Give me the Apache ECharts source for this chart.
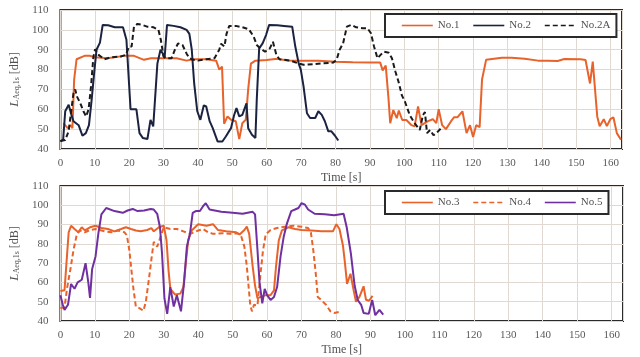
<!DOCTYPE html>
<html>
<head>
<meta charset="utf-8">
<script src="https://cdn.jsdelivr.net/npm/echarts@6/dist/echarts.min.js"></script>
<style>
html,body{margin:0;padding:0;background:#fff;}
#chart{width:640px;height:357px;}
</style>
</head>
<body>
<div id="chart"></div>
<script>
// ---- data (time [s], level [dB]) ----
const xTicks = [0,10,20,30,40,50,60,70,80,90,100,110,120,130,140,150,160];
const yTicks = [40,50,60,70,80,90,100,110];

const t1 = [0.9,2.1,3,3.5,4,4.7,7,8.5,10.1,13.7,18.5,21.4,24.3,26.3,31,33.8,36.7,38.6,42.4,45.3,46.2,47,47.6,48.6,49.6,51,52,52.9,53.9,54.6,55.4,56.7,60,63,66,70,75,80,85,90,93,93.7,94.6,95.4,95.9,96.8,97.8,98.4,99.4,100.6,102.1,103,104,105,106.9,108.3,109.3,110,111,112.1,113.6,114.5,115.5,116.9,118.1,119.1,120,120.9,121.9,122.6,123.8,128.4,131.2,135,138.9,141.7,144.6,146.5,151.3,152.7,154,154.8,156.1,156.8,158,158.9,159.9,160.8,161.8,163];
const v1 = [53,50.5,52,50.5,75,85.2,86.9,87,86.2,85.7,86.9,86.9,84.9,85.7,85.7,85.7,84.5,85.2,85.2,84.5,80,81.5,52.7,56.4,54.7,54,45,53,54.7,70,83,84.5,84.8,85.4,84.6,84.5,84.5,84,83.7,83.5,83.5,79.6,82,65.5,53,59.6,55.5,59.4,54.6,54.6,52,51.4,61.5,52,54,55,53,60,52,50,54,56,56,59,48,52,46,52,51,75,85,86,86,85.5,84.5,84.5,84.3,85.3,85.2,84.8,73,84,56.4,51.5,55,51.5,55,56,48,44.7];

const t2 = [0,0.8,1.4,2.4,3.2,3.8,4.3,5.3,6.4,7.4,8.3,9.1,9.8,10.5,11.5,12.3,13.9,15.8,18.2,19.2,20.4,22.1,23,24,25.3,26.2,27,27.4,28.2,29.1,29.8,30.3,31,32.9,34.9,36.7,37.5,38.2,38.9,39.8,40.7,41.7,42.4,43.4,44.3,45.7,47.1,48.1,49.6,50.5,51.2,52,52.9,54.1,54.6,55.7,56.7,57.1,57.8,58.8,59.8,60.7,63.1,65,67.4,68.3,69.3,69.9,70.7,71.7,72.6,74.1,75,76,76.9,77.9,78.8,79.8,80.8];
const v2 = [43.8,44.7,59,62.3,57.2,54,55,52,46.7,48,52,65,78,90,93.6,102.5,102.3,101.3,101.3,95,60,60,48,45.5,45,54.7,51.4,51,83,90,88,85.7,102.5,102,101.3,100,98,90,73,59,54.7,62,61.4,54,50.5,43.8,43.8,46.3,50.5,57,60.6,56.4,57.2,63,50.5,47.2,45.5,65,90.7,93.2,97.4,102.5,102.3,102,101.6,91.6,83,80,71.5,58,55.6,55.6,59,57.2,54,48.9,48.9,46.8,44.3];

const t2a = [0,1.4,2.4,3.2,3.8,4.3,4.8,5.8,6.7,7.5,8.2,8.9,9.6,10.1,11.1,12.8,14.7,17.6,19,20,20.7,21.4,22.4,23.8,25.2,27.1,28.5,29.2,30,30.9,32.3,33.3,34.2,35.5,36.7,37.5,38.6,40,42.4,44.8,46.2,46.7,47.7,48.3,49.1,51,52.9,54.8,56.2,57.1,58.1,59.5,60.9,61.8,62.8,63.7,65.2,67.1,69,70.7,73.6,76.5,79.3,80.3,81.2,82.2,83.3,84.6,86,87.9,89.3,90.3,91.2,92.2,93.1,94.1,95.5,96.4,97.4,98.3,99.3,100.2,101.6,103,104.5,105.4,106,106.6,107.5,108.5,109.6,111];
const v2a = [44,44.5,49,60,68,70,66.5,63,59,56.4,60,71.5,86.5,90.2,87.4,85.2,86.2,86.6,87.4,91.6,91.6,101.6,103,102.5,101.6,101.3,100,95,86.6,85.7,85.7,90,93.2,92.4,88,85.7,84.9,84.5,85.2,85.7,90,93,91.6,98,102,102,101.3,100.3,96.6,92.4,90.7,89,90.7,94,87.4,85.2,84.9,84.4,83.2,82.4,82.7,83.2,83.5,84.9,90,93.2,101.6,102.5,101.3,100.8,100.8,98.3,91.6,85.7,87.4,89,88.5,85.7,79,74,67,63.8,57,53,49.6,57,58.6,48,49.6,46.9,48.5,51];

const t3 = [0,1.2,1.9,2.4,3.1,4.1,5.2,6.2,7.1,8.6,10.2,11.9,13.8,15.7,17.6,19,20.5,21.9,23.3,25.2,26.4,27.1,28.6,30,30.8,31.4,31.9,33.3,34.8,35.7,36.5,37.1,38.1,40,42.4,44.3,45.7,48.1,51,52,53.4,54.1,54.8,55.8,56.5,57.2,58.1,59.6,61,62,62.6,63.4,64.3,66.2,68.1,70,72.9,75.8,79.1,80.1,81,82,82.6,83.2,84.2,85.1,85.8,86.8,88,88.7,89.6,90.6];
const v3 = [55.6,56,73.5,86,89.4,87.7,86,88.6,87,88.6,89.4,88.2,87.7,86.5,87.7,88.6,87.7,86.9,86.5,87.2,88.2,86.5,88.6,89.4,81.9,66,56.7,53.7,54.2,57.6,71.8,81.9,86.9,90.2,89.4,90.2,87.2,86.5,86,84.9,87.2,88.9,85.2,68.5,58.4,51.7,52.5,53.4,53.4,55.9,68.5,81.9,87,88.6,87.7,87.2,86.9,86.5,86.5,90.2,87.7,79.3,70,59.2,64.5,56,50,52.5,58,51,50.5,53];

const t4 = [0,1.2,1.9,2.9,3.8,4.8,5.7,7.1,8.6,10.2,11.4,12.9,14.8,16.7,18.6,19.3,20,20.7,21.2,21.9,22.9,24.1,24.8,25.7,26.4,27.1,28.1,28.9,30,31.9,33.8,35.7,37.6,40,41.4,42.9,44.3,47.1,49.1,51.4,52.4,53.4,54.1,54.6,55.1,55.6,56.2,57.2,58.1,58.8,59.6,61,62.9,65.2,67.6,70,71.9,72.7,73.4,74.1,74.7,75.7,77.1,78.4,79.5,81.5];
const v4 = [46.7,47,56.7,66.8,76.8,85.2,86.9,86,87.2,87.7,87.2,86.5,86,86.9,86,84.4,76.8,65,56.7,47.5,46.7,45.3,50,61.8,71.8,81,78.5,82.7,88.6,87.7,87.7,86.5,85.2,86.9,87.7,86,85.2,85.5,85.2,85.5,84.4,78.5,68.5,58.4,48.4,45,48.4,48,64.8,76.5,85,87.2,88.2,88.9,89.4,88.9,88.2,86,76.8,65,52.5,50.9,48.4,45,44.2,45];

const t5 = [0,0.7,1.2,2.2,3.1,4.1,5,6.2,7.3,8.1,8.6,9.2,10.2,11,11.9,13.3,15.7,18.1,19.5,21,22.4,24.3,26.2,27.1,28.1,28.9,29.5,30.2,31,31.9,32.9,33.8,35,35.9,36.7,37.6,38.4,39.3,40.5,41.4,42.2,43.3,44.8,46.7,50,52.9,55.8,56.5,57.2,57.8,58.6,59.3,60,61,62,62.9,63.9,64.8,65.7,67,68.1,69.1,70,71,71.9,73.8,76.7,79.5,82.2,83.1,84.3,85.4,86.3,87.3,88,89.5,90.5,91.4,92.6,93.7];
const v5 = [53.4,48.4,45.8,48.4,59.2,56.7,60,61.4,70,60,52,66.8,73.5,85.2,95.3,98.6,97,96.1,97.3,98.1,97,97.3,98.1,97.8,95.6,88.6,75,51.7,43.7,57.6,47.5,53.4,45,60,78.5,85.2,96.1,97,97,99.5,101.1,97.8,97.3,96.6,96.1,95.6,96.6,95.3,76.8,60,49.2,56.7,53.4,50.9,52.5,57.6,73.5,83.5,90.2,97,97.8,98.6,101.1,100.3,97.8,95.6,95.3,94.8,95.6,88.6,75.2,58.4,50.9,48.4,44.2,43.7,50.9,43,45.8,43.3];

const names1 = ['No.1','No.2','No.2A'];
const names2 = ['No.3','No.4','No.5'];

// ---- styling ----
const FONT = '"Liberation Serif", "DejaVu Serif", serif';
const ORANGE = '#e8632b', NAVY = '#1b2340', BLACK = '#1a1a1a', PURPLE = '#7030a0';
const zip = (t, v) => t.map((x, i) => [x, v[i]]);

function xAx(gi) {
  return {
    gridIndex: gi, type: 'value', min: xTicks[0], max: 163.3, interval: xTicks[1] - xTicks[0],
    axisLine: {show: false}, axisTick: {show: false},
    axisLabel: {showMaxLabel: false, margin: 9, fontFamily: FONT, fontSize: 11, color: '#595959'},
    splitLine: {show: true, lineStyle: {color: '#dfd9d2', width: 1}},
    name: 'Time [s]', nameLocation: 'middle', nameGap: 23,
    nameTextStyle: {fontFamily: FONT, fontSize: 12, color: '#505050'}
  };
}
function yAx(gi) {
  return {
    gridIndex: gi, type: 'value', min: yTicks[0], max: yTicks[yTicks.length - 1], interval: yTicks[1] - yTicks[0],
    axisLine: {show: false}, axisTick: {show: false},
    axisLabel: {margin: 12, fontFamily: FONT, fontSize: 11, color: '#595959'},
    splitLine: {show: true, lineStyle: {color: '#dfd9d2', width: 1}},
    name: '{i|L}{s|Aeq,1s}{n| [dB]}', nameLocation: 'middle', nameGap: 36,
    nameTextStyle: {
      fontFamily: FONT, color: '#505050',
      rich: {
        i: {fontFamily: FONT, fontStyle: 'italic', fontSize: 13, color: '#505050', lineHeight: 16, verticalAlign: 'bottom'},
        s: {fontFamily: FONT, fontSize: 8, color: '#505050', lineHeight: 12, verticalAlign: 'bottom'},
        n: {fontFamily: FONT, fontSize: 12, color: '#505050', lineHeight: 16, verticalAlign: 'bottom'}
      }
    }
  };
}
function leg(names, top) {
  return {
    data: names, left: 385, top: top, orient: 'horizontal',
    itemWidth: 31, itemHeight: 12, itemGap: 13,
    padding: [6, 6, 6, 16],
    backgroundColor: '#fff', borderColor: '#2a2a2a', borderWidth: 2,
    itemStyle: {opacity: 0},
    lineStyle: {width: 1.6},
    textStyle: {fontFamily: FONT, fontSize: 11, color: '#505050'}
  };
}
function ser(name, data, color, gi, dashed) {
  return {
    name: name, type: 'line', xAxisIndex: gi, yAxisIndex: gi, data: data,
    symbol: 'none', showSymbol: false, smooth: false,
    lineStyle: {color: color, width: 2, type: dashed ? [5, 3] : 'solid'},
    itemStyle: {color: color}
  };
}

const chart = echarts.init(document.getElementById('chart'), null, {renderer: 'canvas'});
chart.setOption({
  animation: false,
  backgroundColor: '#fff',
  grid: [
    {left: 52, top: 10, width: 570, height: 139, show: true, borderColor: '#2a2a2a', borderWidth: 2, backgroundColor: 'transparent'},
    {left: 52, top: 186, width: 571, height: 139, show: true, borderColor: '#2a2a2a', borderWidth: 2, backgroundColor: 'transparent'}
  ],
  xAxis: [xAx(0), xAx(1)],
  yAxis: [yAx(0), yAx(1)],
  legend: [leg(names1, 14), leg(names2, 191)],
  series: [
    ser(names1[0], zip(t1, v1), ORANGE, 0, false),
    ser(names1[1], zip(t2, v2), NAVY, 0, false),
    ser(names1[2], zip(t2a, v2a), BLACK, 0, true),
    ser(names2[0], zip(t3, v3), ORANGE, 1, false),
    ser(names2[1], zip(t4, v4), ORANGE, 1, true),
    ser(names2[2], zip(t5, v5), PURPLE, 1, false)
  ]
});
</script>
</body>
</html>
